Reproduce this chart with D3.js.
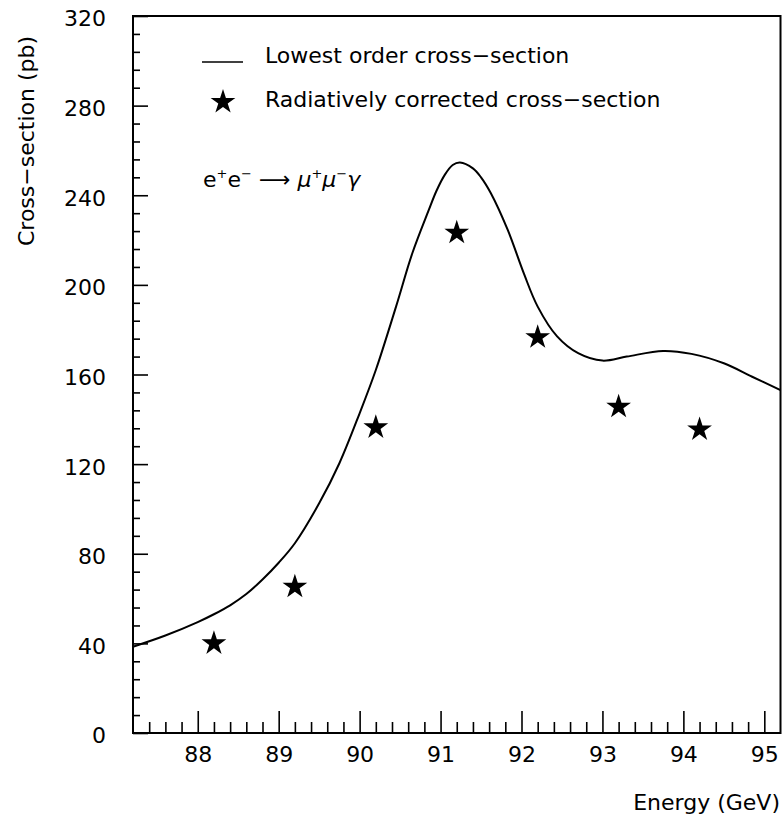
<!DOCTYPE html>
<html>
<head>
<meta charset="utf-8">
<script src="https://cdn.jsdelivr.net/npm/d3@7"></script>
<style>
  body { margin: 0; background: #fff; }
  svg text { font-family: "DejaVu Sans", sans-serif; fill: #000; }
</style>
</head>
<body>
<div class="chart"></div>
<script>
// lowest order curve
var curveEnergy = [87.2, 87.6, 88.0, 88.2, 88.4, 88.6, 88.8, 89.0, 89.2, 89.5, 89.75, 90.0, 90.2, 90.45, 90.65, 90.85, 90.95, 91.05, 91.15, 91.24, 91.4, 91.5, 91.62, 91.83, 92.03, 92.2, 92.44, 92.7, 93.0, 93.3, 93.75, 94.1, 94.5, 94.85, 95.2];
var curveSigma  = [38.5, 43.5, 49.5, 53.0, 57.0, 62.0, 68.5, 76.0, 84.7, 102.5, 120.4, 142.7, 162, 190.3, 214, 233, 242, 249, 253.5, 254.6, 252, 248, 241, 224.5, 205, 190.3, 177, 169.5, 166.2, 168, 170.5, 169.2, 165, 159, 153];

// radiatively corrected points
var starEnergy = [88.2, 89.2, 90.2, 91.2, 92.2, 93.2, 94.2];
var starSigma  = [40.0, 65.3, 136.4, 223.3, 176.6, 145.6, 135.5];

var xMajor = [88, 89, 90, 91, 92, 93, 94, 95];
var yMajor = [0, 40, 80, 120, 160, 200, 240, 280, 320];

var legendLabels = ["Lowest order cross\u2212section", "Radiatively corrected cross\u2212section"];

(function() {
var width = 782, height = 818,
    frameLeft = 133, frameRight = 780.5, frameTop = 16, frameBottom = 733;

var svg = d3.select(".chart").append("svg")
    .attr("width", width)
    .attr("height", height);

var x = d3.scaleLinear().domain([87.2, 95.2]).range([frameLeft, frameRight]),
    y = d3.scaleLinear().domain([0, 320]).range([frameBottom, frameTop]);

// minor ticks every 0.2 GeV and every 8 pb
var xMinor = d3.range(87.4, 95.2, 0.2).filter(function(v) { return Math.abs(v - Math.round(v)) > 0.01; });
var yMinor = d3.range(8, 320, 8).filter(function(v) { return v % 40 !== 0; });

// x axis, ticks pointing into the frame
svg.append("g")
    .attr("transform", "translate(0," + frameBottom + ")")
    .call(d3.axisBottom(x).tickValues(xMinor).tickSize(-11).tickFormat(""))
    .call(function(g) { g.select(".domain").remove(); });

var xa = svg.append("g")
    .attr("transform", "translate(0," + frameBottom + ")")
    .call(d3.axisBottom(x).tickValues(xMajor).tickSize(-22).tickPadding(13).tickFormat(d3.format("d")));
xa.select(".domain").remove();
xa.selectAll("text").style("font-size", "22px");

// y axis
svg.append("g")
    .attr("transform", "translate(" + frameLeft + ",0)")
    .call(d3.axisLeft(y).tickValues(yMinor).tickSize(-7).tickFormat(""))
    .call(function(g) { g.select(".domain").remove(); });

var ya = svg.append("g")
    .attr("transform", "translate(" + frameLeft + ",0)")
    .call(d3.axisLeft(y).tickValues(yMajor).tickSize(-15).tickPadding(27).tickFormat(d3.format("d")));
ya.select(".domain").remove();
ya.selectAll("text").style("font-size", "22px").attr("dy", "0.45em");

svg.selectAll(".tick line").attr("stroke", "#000").attr("stroke-width", 1.6);

// frame
svg.append("rect")
    .attr("x", frameLeft).attr("y", frameTop)
    .attr("width", frameRight - frameLeft).attr("height", frameBottom - frameTop)
    .attr("fill", "none")
    .attr("stroke", "#000")
    .attr("stroke-width", 2);

// axis titles
svg.append("text")
    .attr("x", 780).attr("y", 810)
    .style("text-anchor", "end")
    .style("font-size", "22px")
    .text("Energy (GeV)");

svg.append("text")
    .attr("transform", "translate(34,141) rotate(-90)")
    .style("text-anchor", "middle")
    .style("font-size", "22px")
    .text("Cross\u2212section (pb)");

// lowest order curve
var curveData = curveEnergy.map(function(e, i) { return {e: e, s: curveSigma[i]}; });
var line = d3.line()
    .x(function(d) { return x(d.e); })
    .y(function(d) { return y(d.s); })
    .curve(d3.curveCatmullRom.alpha(0.5));

svg.append("path")
    .datum(curveData)
    .attr("d", line)
    .attr("fill", "none")
    .attr("stroke", "#000")
    .attr("stroke-width", 2);

// stars
var star = d3.symbol().type(d3.symbolStar).size(190);
svg.selectAll(".star")
    .data(starEnergy.map(function(e, i) { return {e: e, s: starSigma[i]}; }))
  .enter().append("path")
    .attr("class", "star")
    .attr("d", star)
    .attr("transform", function(d) { return "translate(" + x(d.e) + "," + y(d.s) + ")"; })
    .attr("fill", "#000");

// legend
svg.append("line")
    .attr("x1", 202).attr("x2", 243)
    .attr("y1", 62).attr("y2", 62)
    .attr("stroke", "#000").attr("stroke-width", 1.6);
svg.append("text")
    .attr("x", 265).attr("y", 63)
    .style("font-size", "22px")
    .text(legendLabels[0]);

svg.append("path")
    .attr("d", star)
    .attr("transform", "translate(223,102)")
    .attr("fill", "#000");
svg.append("text")
    .attr("x", 265).attr("y", 107)
    .style("font-size", "22px")
    .text(legendLabels[1]);

// process label
var proc = svg.append("text")
    .attr("x", 203).attr("y", 187)
    .style("font-size", "22px");
proc.append("tspan").text("e");
proc.append("tspan").attr("dy", -9).style("font-size", "13px").text("+");
proc.append("tspan").attr("dy", 9).text("e");
proc.append("tspan").attr("dy", -9).style("font-size", "13px").text("\u2212");
proc.append("tspan").attr("dy", 9).text(" \u27F6 ");
proc.append("tspan").style("font-style", "italic").text("\u03BC");
proc.append("tspan").attr("dy", -9).style("font-size", "13px").text("+");
proc.append("tspan").attr("dy", 9).style("font-style", "italic").text("\u03BC");
proc.append("tspan").attr("dy", -9).style("font-size", "13px").text("\u2212");
proc.append("tspan").attr("dy", 9).style("font-style", "italic").text("\u03B3");
})();
</script>
</body>
</html>
